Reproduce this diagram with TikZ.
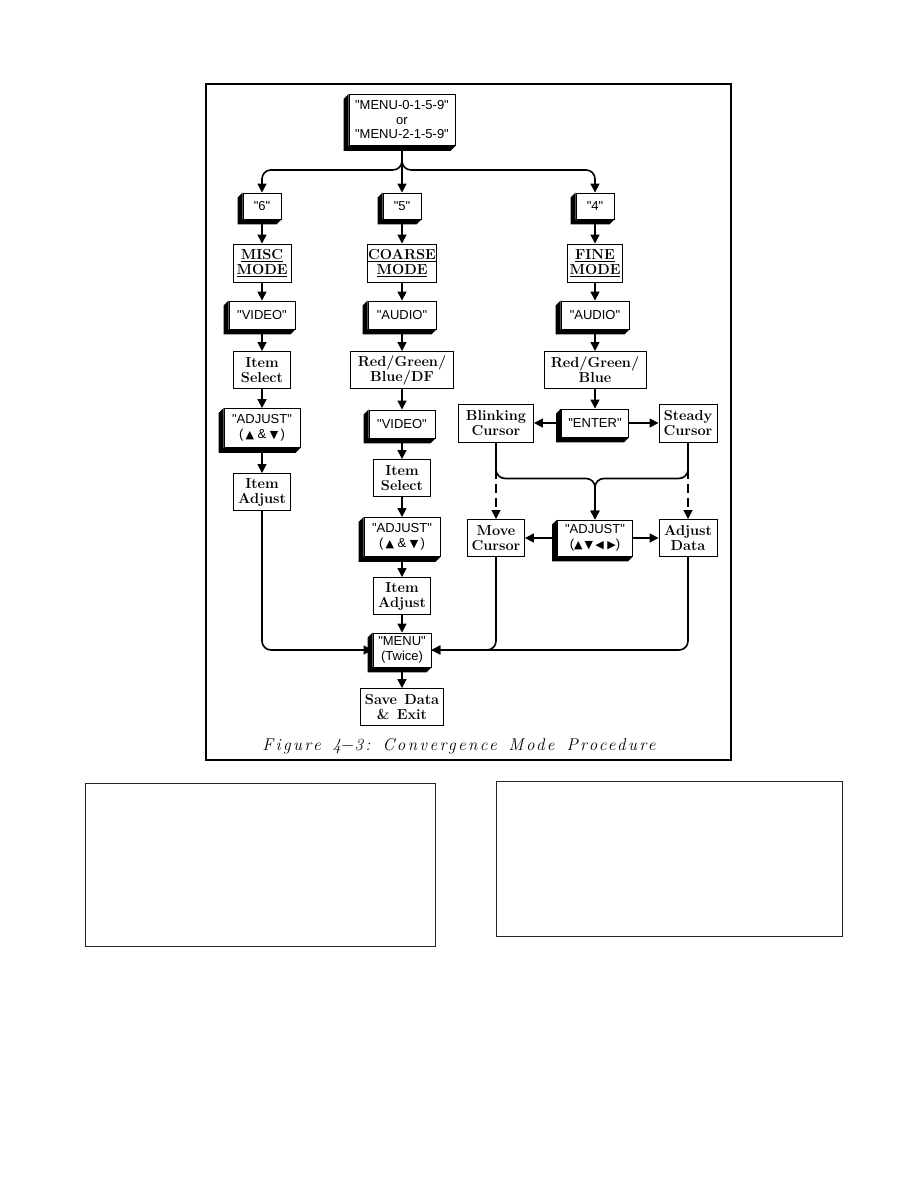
\documentclass[tikz,border=0pt]{standalone}
\usepackage{fontspec}
\usetikzlibrary{positioning, arrows.meta}
\newfontfamily\keyfont{Liberation Sans}
\newfontfamily\symfont{DejaVu Sans}
\newfontfamily\capfont[LetterSpace=14]{Latin Modern Roman}
\newcommand{\keyup}{{\symfont\fontsize{11}{11}\selectfont ▲}}
\newcommand{\keydown}{{\symfont\fontsize{11}{11}\selectfont ▼}}
\newcommand{\keyleft}{{\symfont\fontsize{11}{11}\selectfont ◀}}
\newcommand{\keyright}{{\symfont\fontsize{11}{11}\selectfont ▶}}

\begin{document}
\begin{tikzpicture}[x=1pt, y=-1pt, >={Triangle[length=9pt,width=9pt]},
  flat/.style={draw, fill=white, line width=0.9pt, align=center, inner sep=1pt,
    minimum height=37pt, font=\fontsize{14.5}{15}\selectfont\bfseries},
  raised/.style={draw, fill=white, line width=0.9pt, align=center, inner sep=1pt,
    minimum height=28pt, font=\keyfont\fontsize{13}{14.5}\selectfont},
  link/.style={->, line width=1.6pt},
  frame/.style={draw, line width=1.5pt}]
\useasboundingbox (0,0) rectangle (918,1188);

% outer frame and the two empty boxes below
\draw[frame] (206,84) rectangle (731,760);
\draw[line width=1pt, black!85] (85,783) rectangle (435,946);
\draw[line width=1pt, black!85] (496,781) rectangle (842,936);

\node[raised, minimum width=106pt, minimum height=51pt] (top) at (402,120)
  {"MENU-0-1-5-9"\\or\\"MENU-2-1-5-9"};

% left column
\node[raised, minimum width=38pt, minimum height=26pt] (six) at (262,206) {"6"};
\node[flat, minimum width=58pt, minimum height=38pt, below of=six, node distance=57pt] (misc)
  {\underline{MISC}\\\underline{MODE}};
\node[raised, minimum width=66pt, below of=misc, node distance=52pt] (videoL) {"VIDEO"};
\node[flat, minimum width=57pt, below of=videoL, node distance=55pt] (itemselL) {Item\\Select};
\node[raised, minimum width=76pt, minimum height=39pt, below of=itemselL, node distance=58pt] (adjL)
  {"ADJUST"\\(\,\keyup\ \& \keydown\,)};
\node[flat, minimum width=57pt, below of=adjL, node distance=64pt] (itemadjL) {Item\\Adjust};

% middle column
\node[raised, minimum width=38pt, minimum height=26pt] (five) at (402,206) {"5"};
\node[flat, minimum width=67pt, minimum height=38pt, below of=five, node distance=57pt] (coarse)
  {\underline{COARSE}\\\underline{MODE}};
\node[raised, minimum width=68pt, below of=coarse, node distance=52pt] (audioM) {"AUDIO"};
\node[flat, minimum width=103pt, below of=audioM, node distance=55pt] (rgbdf) {Red/Green/\\Blue/DF};
\node[raised, minimum width=66pt, below of=rgbdf, node distance=54pt] (videoM) {"VIDEO"};
\node[flat, minimum width=57pt, below of=videoM, node distance=54pt] (itemselM) {Item\\Select};
\node[raised, minimum width=76pt, minimum height=39pt, below of=itemselM, node distance=59pt] (adjM)
  {"ADJUST"\\(\,\keyup\ \& \keydown\,)};
\node[flat, minimum width=57pt, below of=adjM, node distance=59pt] (itemadjM) {Item\\Adjust};
\node[raised, minimum width=58pt, minimum height=34pt, below of=itemadjM, node distance=54pt] (menu)
  {"MENU"\\(Twice)};
\node[flat, minimum width=83pt, below of=menu, node distance=57pt] (save) {Save\enspace Data\\\&\enspace Exit};

% right column
\node[raised, minimum width=38pt, minimum height=26pt] (four) at (595,206) {"4"};
\node[flat, minimum width=55pt, minimum height=38pt, below of=four, node distance=57pt] (fine)
  {\underline{FINE}\\\underline{MODE}};
\node[raised, minimum width=68pt, below of=fine, node distance=52pt] (audioR) {"AUDIO"};
\node[flat, minimum width=102pt, below of=audioR, node distance=55pt] (rgb) {Red/Green/\\Blue};
\node[raised, minimum width=67pt, below of=rgb, node distance=53pt] (enter) {"ENTER"};
\node[flat, minimum width=75pt, minimum height=38pt, left of=enter, node distance=99pt] (blink) {Blinking\\Cursor};
\node[flat, minimum width=58pt, minimum height=38pt, right of=enter, node distance=93pt] (steady) {Steady\\Cursor};
\node[raised, minimum width=75pt, minimum height=36pt, below of=enter, node distance=115pt] (adjR)
  {"ADJUST"\\(\keyup\,\keydown\,\keyleft\ \keyright)};
\node[flat, minimum width=57pt, left of=adjR, node distance=99pt] (move) {Move\\Cursor};
\node[flat, minimum width=58pt, right of=adjR, node distance=93pt] (data) {Adjust\\Data};

% raised keys: black side faces
\foreach \n in {top,six,five,four,videoL,audioM,audioR,adjL,videoM,enter,adjM,adjR,menu}
  \fill (\n.north west) -- ++(-5,5) -- ([shift={(-5,5)}]\n.south west)
    -- ([shift={(-5,5)}]\n.south east) -- (\n.south east) -- (\n.south west) -- cycle;

% connectors
\draw[link] (top) -- (five);
\draw[link, rounded corners=9pt] (top.south) -- ++(0,24) -| (six.north);
\draw[link, rounded corners=9pt] (top.south) -- ++(0,24) -| (four.north);

\draw[link] (six) -- (misc);
\draw[link] (misc) -- (videoL);
\draw[link] (videoL) -- (itemselL);
\draw[link] (itemselL) -- (adjL);
\draw[link] (adjL) -- (itemadjL);

\draw[link] (five) -- (coarse);
\draw[link] (coarse) -- (audioM);
\draw[link] (audioM) -- (rgbdf);
\draw[link] (rgbdf) -- (videoM);
\draw[link] (videoM) -- (itemselM);
\draw[link] (itemselM) -- (adjM);
\draw[link] (adjM) -- (itemadjM);
\draw[link] (itemadjM) -- (menu);
\draw[link] (menu) -- (save);

\draw[link] (four) -- (fine);
\draw[link] (fine) -- (audioR);
\draw[link] (audioR) -- (rgb);
\draw[link] (rgb) -- (enter);
\draw[link] (enter) -- (blink);
\draw[link] (enter) -- (steady);
\draw[link, rounded corners=9pt] (blink.south) -- ++(0,36) -| (adjR.north);
\draw[link, rounded corners=9pt] (steady.south) -- ++(0,36) -| (adjR.north);
\draw[link, dash pattern=on 9pt off 5pt] (blink.south) -- (move.north);
\draw[link, dash pattern=on 9pt off 5pt] (steady.south) -- (data.north);
\draw[link] (adjR) -- (move);
\draw[link] (adjR) -- (data);

\draw[link, rounded corners=9pt] (itemadjL.south) |- (menu.west);
\draw[link, rounded corners=9pt] (move.south) |- (menu.east);
\draw[link, rounded corners=9pt] (data.south) |- (menu.east);

\node[font=\capfont\fontsize{17}{19}\selectfont\itshape] (caption) at (459,746)
  {Figure\hspace{12pt}4$-$3:\hspace{12pt}Convergence\hspace{12pt}Mode\hspace{12pt}Procedure};
\end{tikzpicture}
\end{document}
